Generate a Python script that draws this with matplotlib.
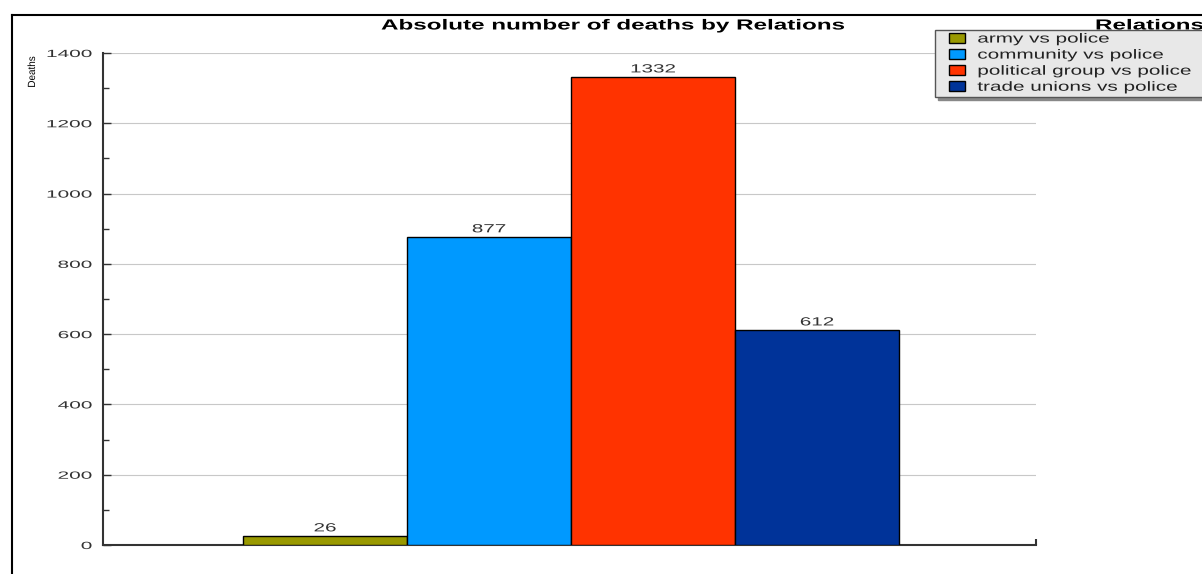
import matplotlib.pyplot as plt
from matplotlib.lines import Line2D
from matplotlib.patches import Patch, Rectangle
from matplotlib.patheffects import AbstractPathEffect
from matplotlib.transforms import Affine2D
from matplotlib.legend_handler import HandlerPatch

relations = ["army vs police", "community vs police",
             "political group vs police", "trade unions vs police"]
deaths = [26, 877, 1332, 612]
colors = ["#999900", "#0099ff", "#ff3300", "#003399"]
yticks = [0, 200, 400, 600, 800, 1000, 1200, 1400]

plt.rcParams['font.family'] = ['Liberation Sans', 'DejaVu Sans']


# the original renderer draws its text wide, so stretch glyphs along the baseline
class Stretch(AbstractPathEffect):
    def __init__(self, sx, anchor="left"):
        super().__init__()
        self.sx = sx
        self.anchor = anchor

    def draw_path(self, renderer, gc, tpath, affine, rgbFace=None):
        ext = tpath.get_extents()
        if self.anchor == "center":
            a = (ext.x0 + ext.x1) / 2
        elif self.anchor == "right":
            a = ext.x1
        else:
            a = 0.0
        st = Affine2D().translate(-a, 0).scale(self.sx, 1).translate(a, 0)
        renderer.draw_path(gc, tpath, st + affine, rgbFace)


W, H = 1202, 574
PT = 72 / 100  # pixels -> points
fig = plt.figure(figsize=(W / 100, H / 100), dpi=100)
ax = fig.add_axes([103 / W, 1 - 545 / H, (1036 - 103) / W, (545 - 53) / H])

x = list(range(len(deaths)))
ax.bar(x, deaths, width=1.0, color=colors, edgecolor="black", linewidth=1, zorder=3)
for xi, v in zip(x, deaths):
    ax.annotate(str(v), (xi, v), xytext=(0, 4.5 * PT), textcoords="offset points",
                ha="center", va="baseline", fontsize=8.5, color="#333333",
                path_effects=[Stretch(1.75, "center")])

ax.set_xlim(-1.354, 4.335)
ax.set_ylim(0, 1400)
ax.set_yticks(yticks)
ax.set_yticks(range(0, 1401, 100), minor=True)
ax.set_xticks([4.335])
ax.set_xticklabels([""])
ax.tick_params(axis="x", direction="in", length=4, width=1.5, colors="#333333")
ax.tick_params(axis="y", direction="in", length=6, width=1, labelsize=7.5, pad=8,
               colors="#333333")
ax.tick_params(axis="y", which="minor", direction="in", length=4, width=1, colors="#333333")
plt.setp(ax.get_yticklabels(), path_effects=[Stretch(2.0, "right")])
ax.yaxis.grid(True, color="#c8c8c8", linewidth=0.8, zorder=0)
ax.spines["top"].set_visible(False)
ax.spines["right"].set_visible(False)
for s in ("left", "bottom"):
    ax.spines[s].set_color("#333333")
    ax.spines[s].set_linewidth(1.5)

fig.text(381 / W, 1 - 29.5 / H, "Absolute number of deaths by Relations", fontsize=10.5,
         fontweight="bold", ha="left", va="baseline", path_effects=[Stretch(1.66)])
fig.text(32 / W, 1 - 72 / H, "Deaths", rotation=90, ha="center", va="center",
         fontsize=7.5, path_effects=[Stretch(0.95, "center")])

# outer frame lines
fig.add_artist(Line2D([12 / W, 1], [1 - 15 / H, 1 - 15 / H], color="black", linewidth=1.5))
fig.add_artist(Line2D([12 / W, 12 / W], [0, 1 - 15 / H], color="black", linewidth=1.5))


def box_handle(legend, orig_handle, xdescent, ydescent, width, height, fontsize):
    return Rectangle((-xdescent + 11 * PT, -ydescent + (height - 10 * PT) / 2),
                     16 * PT, 10 * PT)


fs = 9.5
handles = [Patch(facecolor=c, edgecolor="black", label=r) for c, r in zip(colors, relations)]
leg = fig.legend(handles=handles, loc="upper left",
                 bbox_to_anchor=(935 / W, 1 - 100 / H, 280 / W, 70 / H), mode="expand",
                 frameon=True, fancybox=False, shadow={"color": "#888888", "alpha": 1},
                 fontsize=fs, handlelength=27 * PT / fs, handletextpad=12 * PT / fs,
                 labelspacing=0.29, borderpad=0.25, borderaxespad=0,
                 handler_map={Patch: HandlerPatch(patch_func=box_handle)})
leg.get_frame().set_facecolor("#e8e8e8")
leg.get_frame().set_edgecolor("#555555")
leg.get_frame().set_alpha(1)
for t in leg.get_texts():
    t.set_color("#222222")
    t.set_path_effects([Stretch(1.57)])
fig.text(1095 / W, 1 - 29.5 / H, "Relations", fontsize=10.5, fontweight="bold",
         ha="left", va="baseline", path_effects=[Stretch(1.66)])

fig.savefig("out.png", dpi=100)
